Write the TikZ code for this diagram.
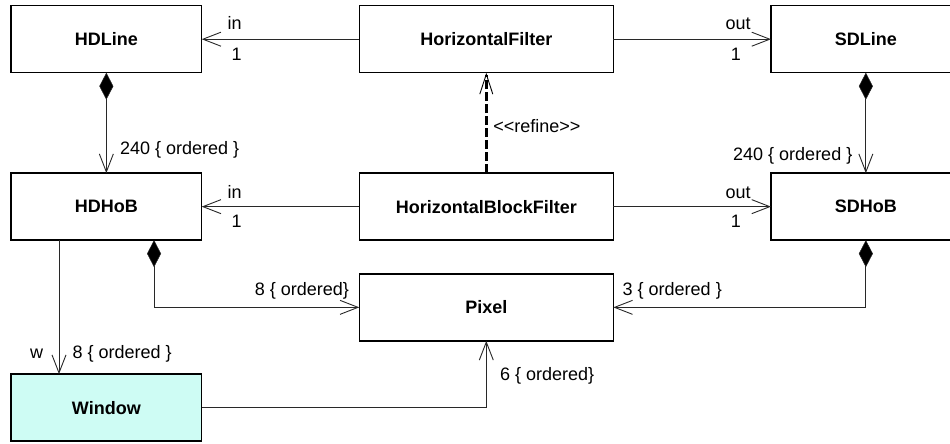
\documentclass[tikz,border=0pt]{standalone}
\usepackage{fontspec}
\setmainfont{Liberation Sans}
\usetikzlibrary{arrows.meta}
\definecolor{winfill}{RGB}{206,252,244}
\definecolor{lnk}{RGB}{40,40,40}
\begin{document}
\begin{tikzpicture}[x=1pt,y=-1pt,
  font=\fontsize{18}{21}\selectfont,
  cls/.style={draw=black, line width=1.5pt, minimum width=#1, minimum height=67pt,
    inner sep=0pt, outer sep=0pt, font=\fontsize{18}{21}\selectfont\bfseries},
  lbl/.style={inner sep=0pt, outer sep=0pt},
  opentip/.style={-{Straight Barb[length=18pt,width=14pt,line width=0.9pt]}},
  assoc/.style={draw=lnk, line width=0.9pt, opentip},
  comp/.style={draw=lnk, line width=0.9pt,
    {Diamond[length=27pt,width=14pt,fill=black,line width=0.5pt]}-{Straight Barb[length=18pt,width=14pt,line width=0.9pt]}},
  refine/.style={draw=black, line width=3pt, dash pattern=on 9pt off 3pt,
    -{Straight Barb[length=20pt,width=13pt,line width=0.9pt]}}
]
\useasboundingbox (0,0) rectangle (950,444);
\clip (0,0) rectangle (950,444);
\fill[white] (0,0) rectangle (950,444);

% classes
\node[cls=190.7pt] (hdl) at (106.35,39.2) {HDLine};
\node[cls=254pt]   (hf)  at (486.3,39.2) {HorizontalFilter};
\node[cls=189.7pt] (sdl) at (865.85,39.2) {SDLine};
\node[cls=190.7pt] (hdh) at (106.35,206.65) {HDHoB};
\node[cls=254pt]   (hbf) at (486.3,206.65) {HorizontalBlockFilter};
\node[cls=189.7pt] (sdh) at (865.85,206.65) {SDHoB};
\node[cls=254pt]   (px)  at (486.3,307.35) {Pixel};
\node[cls=190.7pt, fill=winfill] (win) at (106.35,407.65) {Window};

% associations
\draw[assoc] (hf.west) -- (hdl.east);
\draw[assoc] (hf.east) -- (sdl.west);
\draw[assoc] (hbf.west) -- (hdh.east);
\draw[assoc] (hbf.east) -- (sdh.west);

% compositions
\draw[comp] (hdl.south) -- (hdh.north);
\draw[comp] (sdl.south) -- (sdh.north);
\draw[comp] ([xshift=47.7pt]hdh.south) |- (px.west);
\draw[comp] (sdh.south) |- (px.east);

% window links
\draw[assoc] ([xshift=-47.35pt]hdh.south) -- ([xshift=-47.35pt]win.north);
\draw[assoc] (win.east) -| (px.south);

% refine
\draw[refine] (hbf.north) -- (hf.south);

% labels
\node[lbl, anchor=base west] (lin1)  at (227.7,30) {in};
\node[lbl, anchor=base west] (lone1) at (231.7,60) {1};
\node[lbl, anchor=base east] (lout1) at (750.7,30) {out};
\node[lbl, anchor=base east] (lone2) at (741,60) {1};
\node[lbl, anchor=base west] (lin2)  at (227.7,198.5) {in};
\node[lbl, anchor=base west] (lone3) at (231.7,227.7) {1};
\node[lbl, anchor=base east] (lout2) at (750.7,198.5) {out};
\node[lbl, anchor=base east] (lone4) at (741,227.7) {1};
\node[lbl, anchor=base west] (l240a) at (120,154) {240 \{ ordered \}};
\node[lbl, anchor=base east] (l240b) at (852.3,160) {240 \{ ordered \}};
\node[lbl, anchor=base west] (lref)  at (493.3,132.7) {<\kern0pt<refine>\kern0pt>};
\node[lbl, anchor=base east] (l8a)   at (349,295) {8 \{ ordered\}};
\node[lbl, anchor=base west] (l3)    at (622.7,295) {3 \{ ordered \}};
\node[lbl, anchor=base east] (lw)    at (43,358.3) {w};
\node[lbl, anchor=base west] (l8b)   at (72.7,358.3) {8 \{ ordered \}};
\node[lbl, anchor=base west] (l6)    at (500,380.7) {6 \{ ordered\}};
\end{tikzpicture}
\end{document}
